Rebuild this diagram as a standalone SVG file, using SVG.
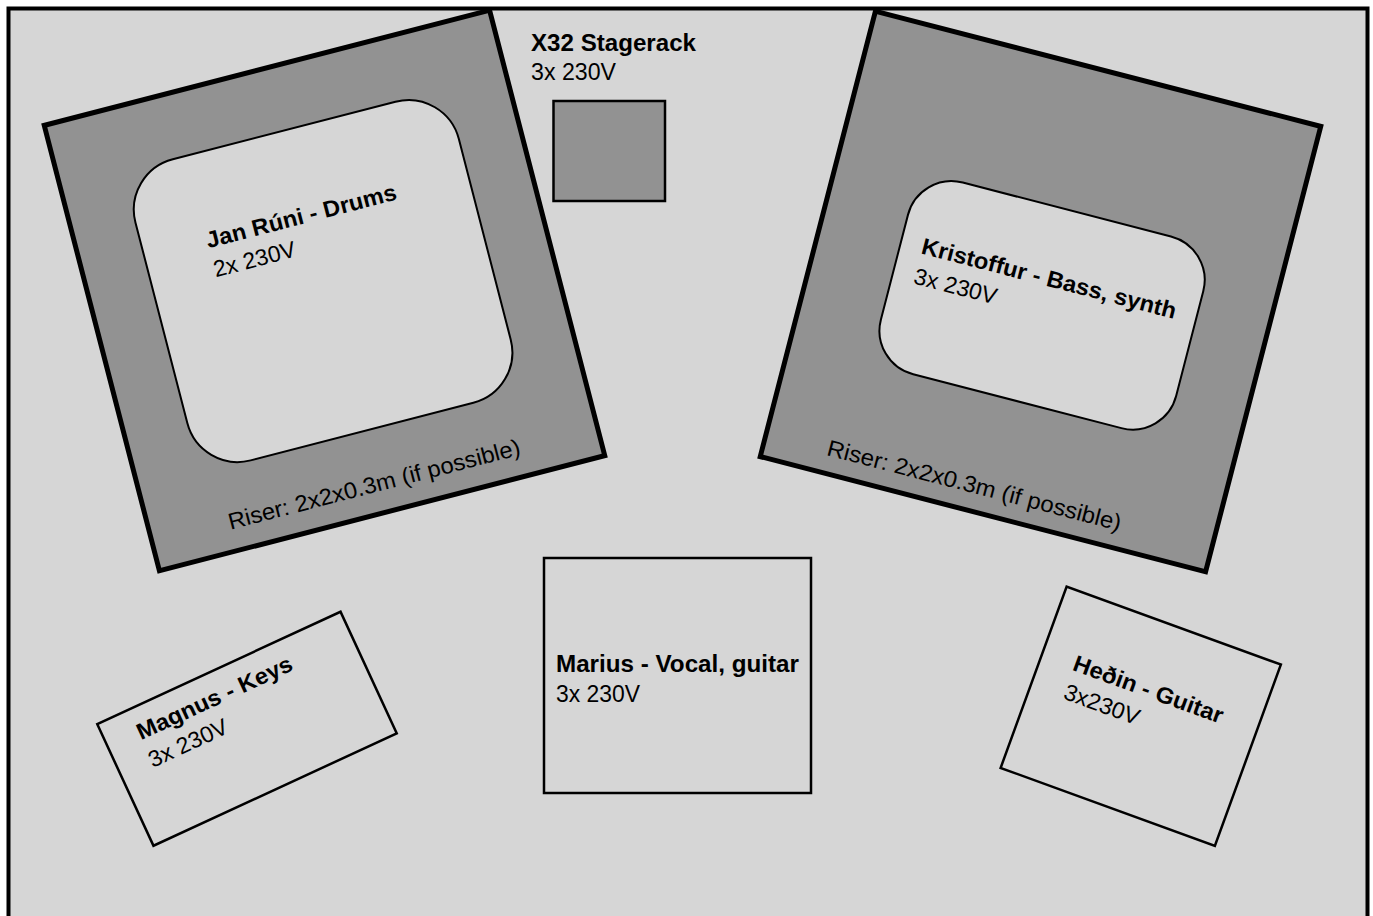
<svg xmlns="http://www.w3.org/2000/svg" width="1373" height="916" viewBox="0 0 1373 916">
<style>
  text { font-family: "Liberation Sans", Arial, sans-serif; font-size: 23px; fill: #000; }
  .b { font-weight: bold; }
  .stage { fill: #d6d6d6; stroke: #000; stroke-width: 4; }
  .riser { fill: #929292; stroke: #000; stroke-width: 5; }
  .inner { fill: #d6d6d6; stroke: #000; stroke-width: 2; }
  .box { fill: #d6d6d6; stroke: #000; stroke-width: 2.5; }
  .rack { fill: #929292; stroke: #000; stroke-width: 2.5; }
</style>
<rect class="stage" x="8.5" y="8.5" width="1359" height="925"/>

<g id="drums" transform="translate(324.5 290.5) rotate(-14.5)">
  <rect class="riser" x="-230" y="-230" width="460" height="460"/>
  <rect class="inner" x="-166" y="-165" width="334" height="311" rx="52"/>
  <text class="b" x="-102" y="-70" textLength="196" lengthAdjust="spacingAndGlyphs">Jan Rúni - Drums</text>
  <text x="-102" y="-40" textLength="84" lengthAdjust="spacingAndGlyphs">2x 230V</text>
  <text x="-151" y="208" textLength="301" lengthAdjust="spacingAndGlyphs">Riser: 2x2x0.3m (if possible)</text>
</g>

<g id="bass" transform="translate(1040.5 291.5) rotate(14.5)">
  <rect class="riser" x="-230" y="-230" width="460" height="460"/>
  <rect class="inner" x="-147.5" y="-86" width="305" height="198" rx="45"/>
  <text class="b" x="-126" y="-7" textLength="262" lengthAdjust="spacingAndGlyphs">Kristoffur - Bass, synth</text>
  <text x="-126" y="24" textLength="85" lengthAdjust="spacingAndGlyphs">3x 230V</text>
  <text x="-167" y="212" textLength="303" lengthAdjust="spacingAndGlyphs">Riser: 2x2x0.3m (if possible)</text>
</g>

<g id="stagerack">
  <text class="b" x="531" y="51" textLength="165" lengthAdjust="spacingAndGlyphs">X32 Stagerack</text>
  <text x="531" y="80" textLength="85" lengthAdjust="spacingAndGlyphs">3x 230V</text>
  <rect class="rack" x="553.5" y="101" width="111.5" height="100"/>
</g>

<g id="marius">
  <rect class="box" x="544" y="558" width="267" height="235"/>
  <text class="b" x="556" y="672" textLength="243" lengthAdjust="spacingAndGlyphs">Marius - Vocal, guitar</text>
  <text x="556" y="702" textLength="84" lengthAdjust="spacingAndGlyphs">3x 230V</text>
</g>

<g id="magnus" transform="translate(247 728.75) rotate(-24.8)">
  <rect class="box" x="-134" y="-67" width="268" height="134"/>
  <text class="b" x="-101" y="-34" textLength="169" lengthAdjust="spacingAndGlyphs">Magnus - Keys</text>
  <text x="-102" y="-4" textLength="85" lengthAdjust="spacingAndGlyphs">3x 230V</text>
</g>

<g id="hedin" transform="translate(1140.75 716.25) rotate(20)">
  <rect class="box" x="-114" y="-96.5" width="228" height="193"/>
  <text class="b" x="-81" y="-20" textLength="158" lengthAdjust="spacingAndGlyphs">Heðin - Guitar</text>
  <text x="-80" y="10" textLength="79" lengthAdjust="spacingAndGlyphs">3x230V</text>
</g>

<g id="connectors"/>
</svg>
